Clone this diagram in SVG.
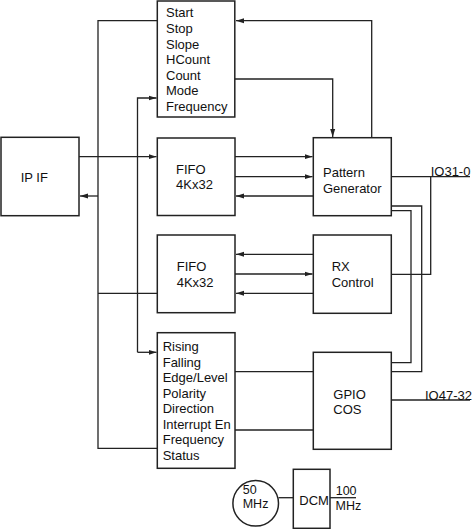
<svg xmlns="http://www.w3.org/2000/svg" width="474" height="529" viewBox="0 0 474 529">
<style>
.box{fill:#fff;stroke:#222;stroke-width:1.5}
.ln{fill:none;stroke:#222;stroke-width:1.3}
text{font-family:"Liberation Sans",Arial,sans-serif;font-size:13px;fill:#111}
.sm{font-size:12.5px}
</style>
<defs>
<marker id="ah" viewBox="0 0 8 6" refX="8" refY="3" markerWidth="8" markerHeight="6" markerUnits="userSpaceOnUse" orient="auto">
<path d="M0,0.5 L8,3 L0,5.5 Z" fill="#222"/>
</marker>
</defs>
<g id="connectors">
<path class="ln" d="M157,20.7 H98 V448.3 H157"/>
<path class="ln" d="M98,196 H80" marker-end="url(#ah)"/>
<path class="ln" d="M98,293.3 H157"/>
<path class="ln" d="M79,156.7 H156.5" marker-end="url(#ah)"/>
<path class="ln" d="M137.5,352.3 V98 H156.5" marker-end="url(#ah)"/>
<path class="ln" d="M137.5,352.3 H156.5" marker-end="url(#ah)"/>
<path class="ln" d="M235,156.7 H312.5" marker-end="url(#ah)"/>
<path class="ln" d="M235,176.7 H312.5" marker-end="url(#ah)"/>
<path class="ln" d="M313,196 H236" marker-end="url(#ah)"/>
<path class="ln" d="M313,254.3 H236" marker-end="url(#ah)"/>
<path class="ln" d="M235,274 H312.5" marker-end="url(#ah)"/>
<path class="ln" d="M313,293.3 H236" marker-end="url(#ah)"/>
<path class="ln" d="M371.7,137.7 V20.7 H236" marker-end="url(#ah)"/>
<path class="ln" d="M235,79 H332.7 V137" marker-end="url(#ah)"/>
<path class="ln" d="M391.3,176.7 H470"/>
<path class="ln" d="M391.3,274.3 H430.7 V176.7"/>
<path class="ln" d="M391.3,206 H421.7 V371.7 H391.3"/>
<path class="ln" d="M391.3,210.7 H411 V362.7 H391.3"/>
<path class="ln" d="M235,371.7 H313"/>
<path class="ln" d="M235,430 H313"/>
<path class="ln" d="M391.3,400 H470"/>
<path class="ln" d="M278.5,497.7 H293.3"/>
<path class="ln" d="M330,497.7 H356"/>
</g>
<g id="regs">
<rect class="box" x="157.3" y="1" width="77.5" height="116"/>
<text x="166" y="17.3">Start</text>
<text x="166" y="32.9">Stop</text>
<text x="166" y="48.5">Slope</text>
<text x="166" y="64.1">HCount</text>
<text x="166" y="79.7">Count</text>
<text x="166" y="95.3">Mode</text>
<text x="166" y="110.9">Frequency</text>
</g>
<g id="ipif">
<rect class="box" x="1" y="137.3" width="78" height="78.4"/>
<text x="20.7" y="181.7">IP IF</text>
</g>
<g id="fifo1">
<rect class="box" x="157.3" y="138" width="77.7" height="77.5"/>
<text x="176" y="173.6">FIFO</text>
<text x="176" y="188.8">4Kx32</text>
</g>
<g id="patgen">
<rect class="box" x="313.3" y="137.7" width="78" height="78"/>
<text x="323" y="176.6">Pattern</text>
<text x="323" y="192.6">Generator</text>
</g>
<g id="fifo2">
<rect class="box" x="157.3" y="235" width="77.7" height="77.7"/>
<text x="176.7" y="271.3">FIFO</text>
<text x="176.7" y="287">4Kx32</text>
</g>
<g id="rx">
<rect class="box" x="313.3" y="235" width="78" height="78.3"/>
<text x="331.7" y="271.3">RX</text>
<text x="331.7" y="286.6">Control</text>
</g>
<g id="gpioregs">
<rect class="box" x="157.3" y="332.7" width="77.7" height="135.6"/>
<text x="162.7" y="351.3">Rising</text>
<text x="162.7" y="366.8">Falling</text>
<text x="162.7" y="382.3">Edge/Level</text>
<text x="162.7" y="397.8">Polarity</text>
<text x="162.7" y="413.3">Direction</text>
<text x="162.7" y="428.8">Interrupt En</text>
<text x="162.7" y="444.3">Frequency</text>
<text x="162.7" y="459.8">Status</text>
</g>
<g id="gpio">
<rect class="box" x="313.3" y="352.3" width="78" height="97"/>
<text x="333.3" y="398.7">GPIO</text>
<text x="333.3" y="414">COS</text>
</g>
<g id="io31">
<text x="430.7" y="176">IO31-0</text>
</g>
<g id="io47">
<text x="425" y="399.5">IO47-32</text>
</g>
<g id="osc">
<circle class="box" cx="255.7" cy="503.3" r="22.8"/>
<text class="sm" x="242.7" y="494.2">50</text>
<text class="sm" x="242.7" y="508">MHz</text>
</g>
<g id="dcm">
<rect class="box" x="293.3" y="469.3" width="36.7" height="59"/>
<text x="299.3" y="505.3">DCM</text>
</g>
<g id="clk100">
<text class="sm" x="335.7" y="495">100</text>
<text class="sm" x="335.5" y="509.5">MHz</text>
</g>
</svg>
